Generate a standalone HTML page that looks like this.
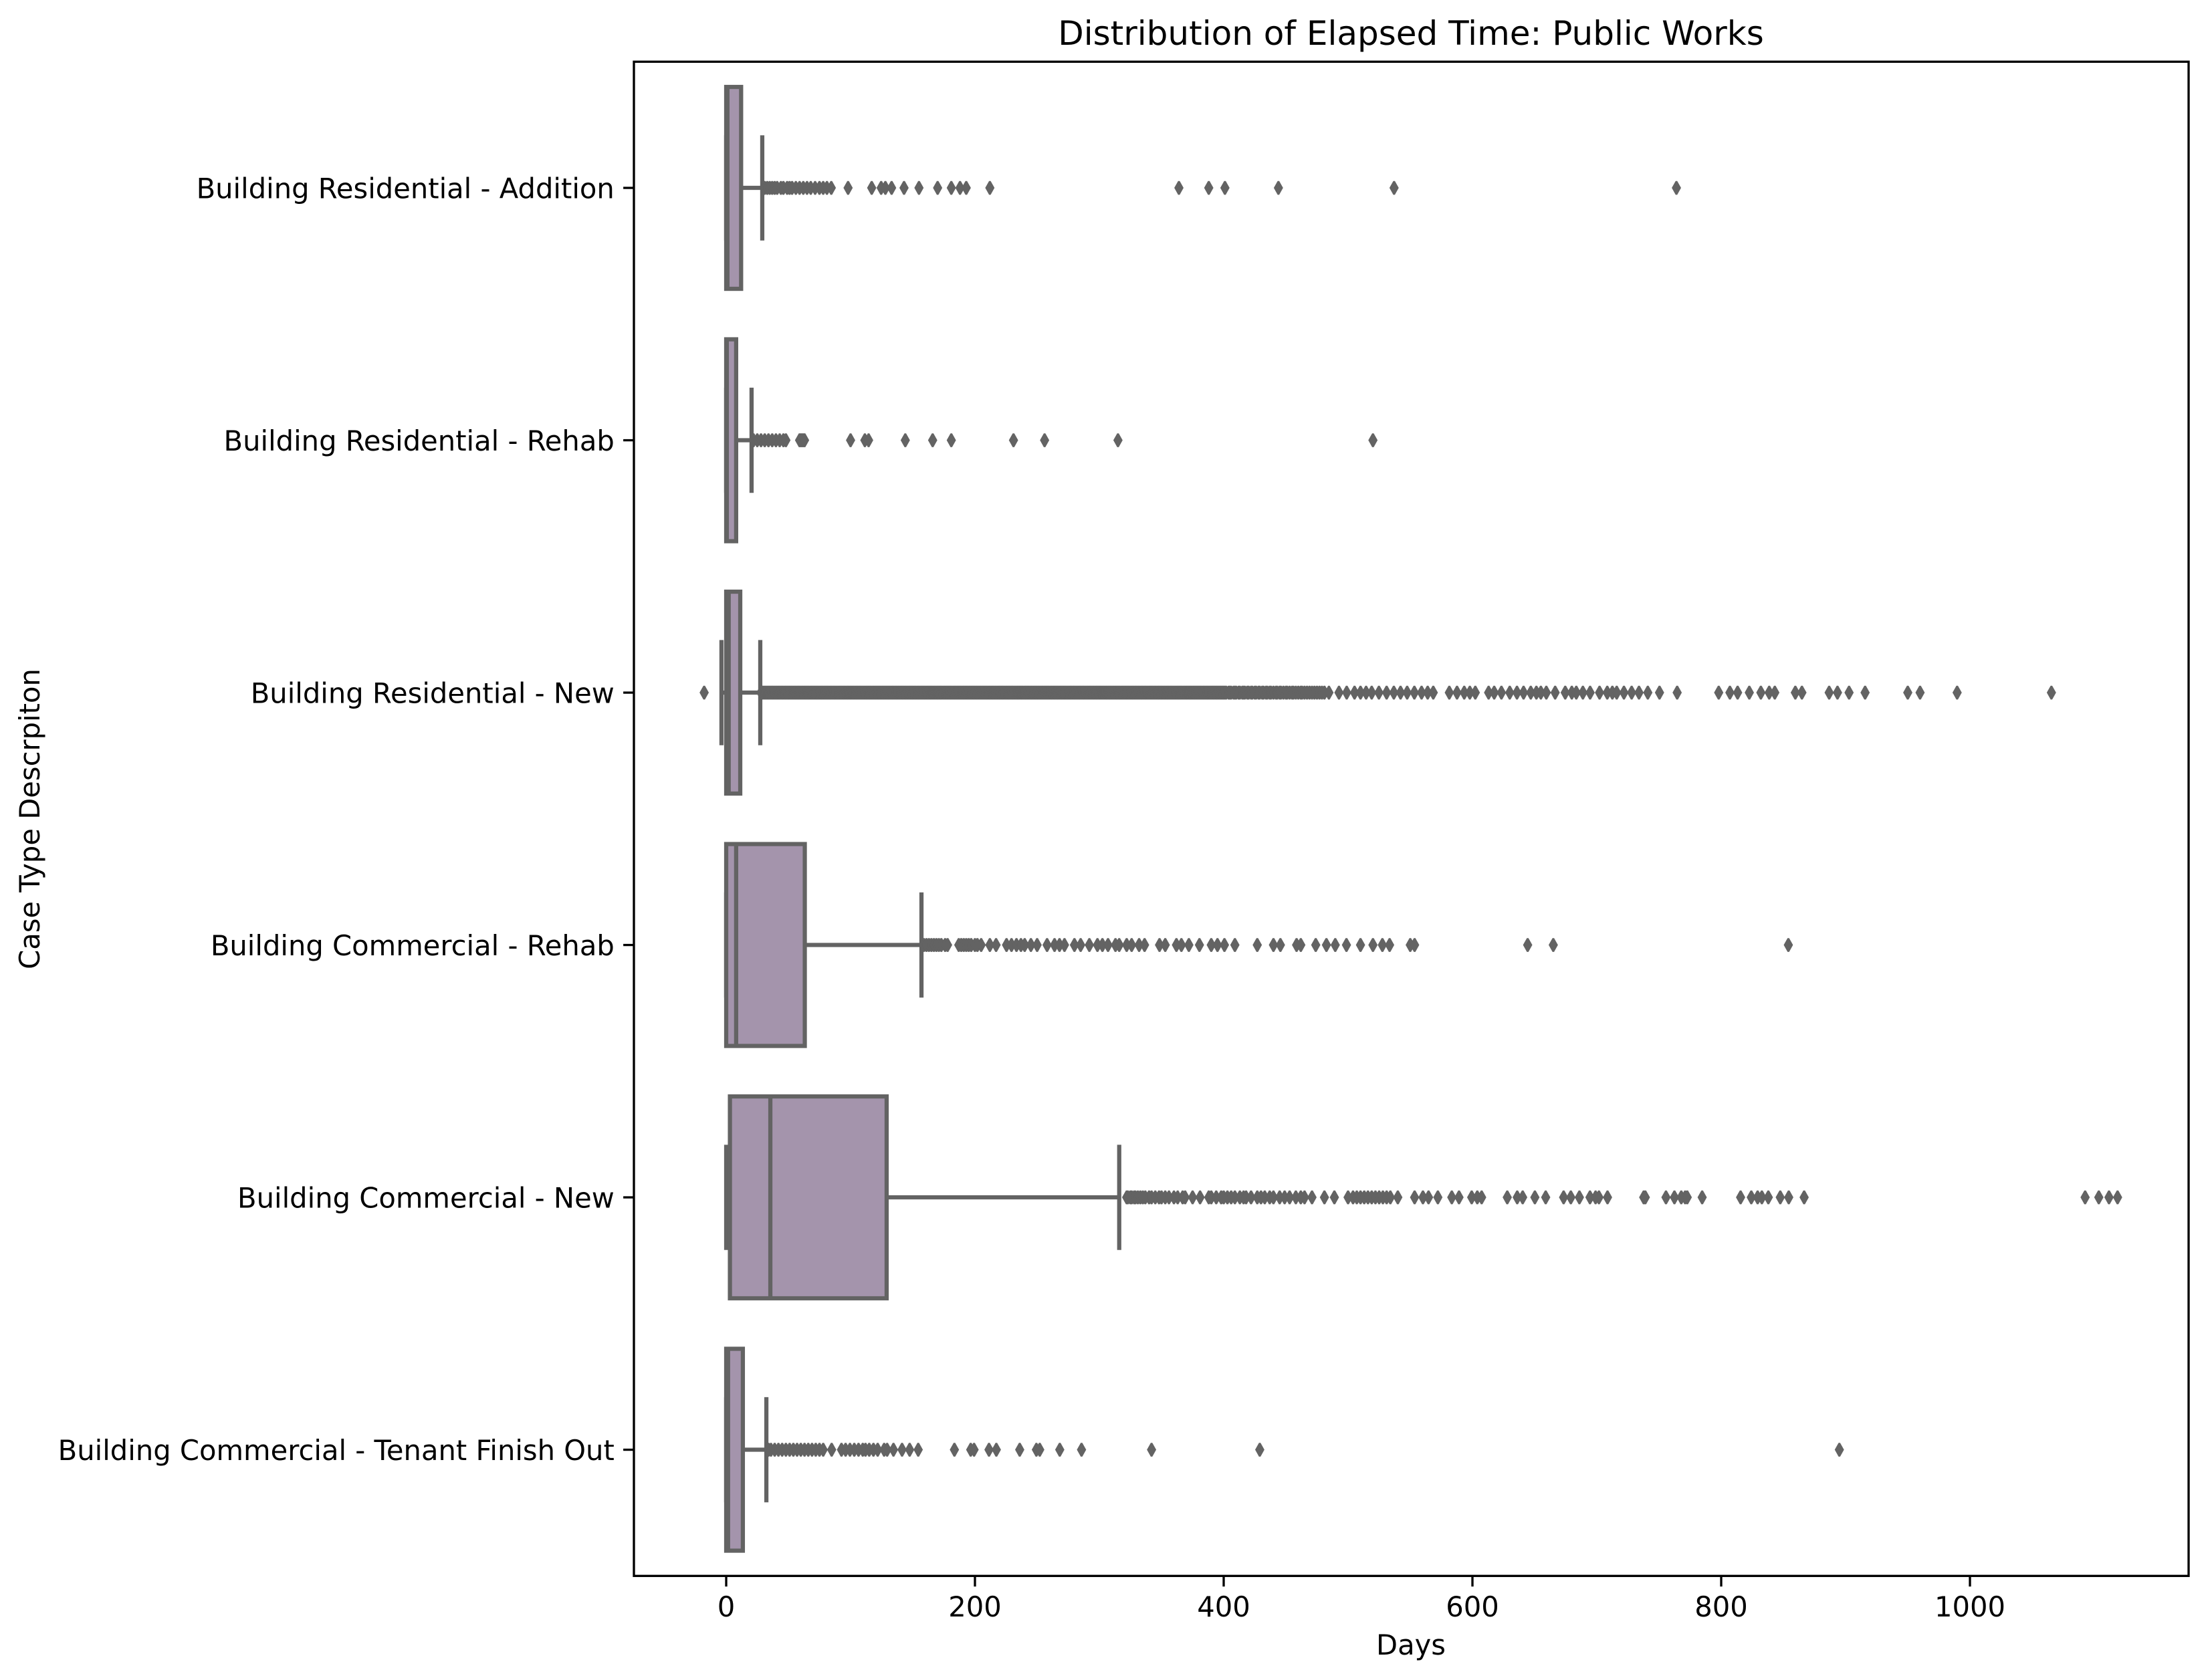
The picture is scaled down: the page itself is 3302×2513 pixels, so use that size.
<!DOCTYPE html>
<html lang="en">
<head>
<meta charset="utf-8">
<title>Distribution of Elapsed Time: Public Works</title>
<style>
html,body{margin:0;padding:0;background:#fff;}
svg{display:block;}
text{font-family:"DejaVu Sans","Liberation Sans",sans-serif;fill:#000;}
</style>
</head>
<body>
<svg id="chart" xmlns="http://www.w3.org/2000/svg" width="3302" height="2513" viewBox="0 0 3302 2513">
  <rect x="0" y="0" width="3302" height="2513" fill="#ffffff"/>
  <text x="2110" y="67" font-size="50" text-anchor="middle">Distribution of Elapsed Time: Public Works</text>
  <text x="2110" y="2475" font-size="41.67" text-anchor="middle">Days</text>
  <text x="0" y="0" font-size="41.67" text-anchor="middle" transform="translate(59,1225) rotate(-90)">Case Type Descrpiton</text>
  <g id="marks"></g>
  <g id="axes"></g>
</svg>
<script>
const categories = ["Building Residential - Addition","Building Residential - Rehab","Building Residential - New","Building Commercial - Rehab","Building Commercial - New","Building Commercial - Tenant Finish Out"];
const xTicks = [0,200,400,600,800,1000];

const q1 = [0,0,0,0,3,0];
const medians = [1,0.5,2,8,35.5,1.5];
const q3 = [12,8,11.3,63.2,129,13.4];
const whiskerLow = [0,0,-3.8,0,0,0];
const whiskerHigh = [29,20.4,27.4,157,316,32.3];

const fliersAddition = [31,33,35,37,39,41,44,46,49,51,53,56,59,62,65,68,71.5,75,78,81,84.5,98,117,124.6,128,133,143,155,170,181,188,193,212,364,388,401,444,537,764];
const fliersResRehab = [22,25,28,31,34,37,40,43,46,48,59,60,61,62,63,100,111.5,114.5,144,166,181,231,256,315,520];
const fliersResNew = [-17.7,28,29,30,31,32,33,34,35,36,37,38,39,40,41,42,43,44,45,46,47,48,49,50,51,52,53,54,55,56,57,58,59,60,61,62,63,64,65,66,67,68,69,70,71,72,73,74,75,76,77,78,79,80,81,82,83,84,85,86,87,88,89,90,91,92,93,94,95,96,97,98,99,100,101,102,103,104,105,106,107,108,109,110,111,112,113,114,115,116,117,118,119,120,121,122,123,124,125,126,127,128,129,130,131,132,133,134,135,136,137,138,139,140,141,142,143,144,145,146,147,148,149,150,151,152,153,154,155,156,157,158,159,160,161,162,163,164,165,166,167,168,169,170,171,172,173,174,175,176,177,178,179,180,181,182,183,184,185,186,187,188,189,190,191,192,193,194,195,196,197,198,199,200,201,202,203,204,205,206,207,208,209,210,211,212,213,214,215,216,217,218,219,220,221,222,223,224,225,226,227,228,229,230,231,232,233,234,235,236,237,238,239,240,241,242,243,244,245,246,247,248,249,250,251,252,253,254,255,256,257,258,259,260,261,262,263,264,265,266,267,268,269,270,271,272,273,274,275,276,277,278,279,280,281,282,283,284,285,286,287,288,289,290,291,292,293,294,295,296,297,298,299,300,301,302,303,304,305,306,307,308,309,310,311,312,313,314,315,316,317,318,319,320,321,322,323,324,325,326,327,328,329,330,331,332,333,334,335,336,337,338,339,340,341,342,343,344,345,346,347,348,349,350,351,352,353,354,355,356,357,358,359,360,361,362,363,364,365,366,367,368,369,370,371,372,373,374,375,376,377,378,379,380,381,382,383,384,385,386,387,388,389,390,391,392,393,394,395,396,397,398,399,400,401,402,404,405,406,408,409,410,412,413,415,416,417,419,420,422,423,425,426,428,429,431,432,434,435,437,438,440,442,443,445,446,448,450,451,453,455,456,458,460,462,463,465,467,469,471,473,475,477,479,481,484.6,492.7,498.9,505.2,510,514.5,519,524.8,531,536.8,542.2,547.5,553.3,559.1,564,568.5,581.4,587.6,593.4,597.9,602.3,613,617.5,623.3,630,635.8,641.1,646.9,651.4,655,659.4,666.5,674.6,679.9,683.5,688.8,694.6,702.2,708.4,712.5,716,721.8,728,733.9,741,750.4,764.6,798,807,813.2,822.6,831.9,838.6,843.1,859.6,864.9,886.8,893.5,902.8,915.7,950,959.9,989.7,1065.5];
const fliersComRehab = [159,161,163,165,167,169,171,173,176,178,187,189,191,193,195,197,200,202,205,212,217,225.4,229.4,233.4,237,240,245,250,258,264,268,272,280,285,292,298.5,302.5,307,313,316,322,326,332,336.4,348.4,353,362,366,372,380.5,390,395,400.6,409,427,440,445.6,458.6,462,474,482.6,489.7,498.7,510,520,527.6,533.4,550,553.5,644.4,665,854];
const fliersComNew = [322,323,325,326,328,329,331,333,335,337,340,342,345,348,350,353,356,360,363,367,369,375,381,388,390,394,398,400,403,406,409,413,416,418,422,427,430,433,437,440,445,449,453,458,462,465,471,481,489,500,504,507,510,513,516,519,522,525,528,531,534,540,553.5,560.2,564.7,572.2,583.4,589.2,599.4,603.9,607.4,628,636,640.4,650.2,658.9,673.3,679.1,686,694.5,699,701.7,708.6,737.7,739,755.6,762.4,767.9,771,772.7,784.7,815.6,824.2,829.3,832.7,837.9,847.5,854.3,866.7,1092.6,1103.6,1111.8,1118.7];
const fliersTenant = [34,36,39,42,45,48,51,54,57,60,63,66,69,72,75,78,84.8,92.7,96,99.5,103,106.4,109.8,112,115,118.4,121.8,127,129.4,134.5,141.4,147.5,154.4,183.5,196.6,199.3,211.3,217.2,236,249.4,252.1,268.2,285.7,342,429,895];
const allFliers = [fliersAddition,fliersResRehab,fliersResNew,fliersComRehab,fliersComNew,fliersTenant];

const NS = "http://www.w3.org/2000/svg";
const plot = {left:948, right:3273, top:92.3, bottom:2357.3};
const xOrigin = 1086, xPerDay = 1.86;
const GREY = "#636363", FILL = "#a494ac", LW = 6.25;

function xScale(v){ return xOrigin + v * xPerDay; }
function bandHeight(){ return (plot.bottom - plot.top) / categories.length; }
function yCenter(i){ return plot.top + bandHeight() * (i + 0.5); }

function make(parent, tag, attrs){
  const el = document.createElementNS(NS, tag);
  for (const k in attrs) el.setAttribute(k, attrs[k]);
  parent.appendChild(el);
  return el;
}

const marks = document.getElementById("marks");
const axes = document.getElementById("axes");

categories.forEach(function(cat, i){
  const cy = yCenter(i);
  const bh = bandHeight() * 0.8;
  const capH = bandHeight() * 0.4167;
  const slug = cat.toLowerCase().replace(/[^a-z]+/g, "-");

  const g = make(marks, "g", {});
  
  

  const wl = make(g, "line", {x1:xScale(whiskerLow[i]), x2:xScale(q1[i]), y1:cy, y2:cy, stroke:GREY, "stroke-width":LW});
  
  

  const wh = make(g, "line", {x1:xScale(q3[i]), x2:xScale(whiskerHigh[i]), y1:cy, y2:cy, stroke:GREY, "stroke-width":LW});
  
  

  const cl = make(g, "line", {x1:xScale(whiskerLow[i]), x2:xScale(whiskerLow[i]), y1:cy-capH/2, y2:cy+capH/2, stroke:GREY, "stroke-width":LW});
  
  

  const ch = make(g, "line", {x1:xScale(whiskerHigh[i]), x2:xScale(whiskerHigh[i]), y1:cy-capH/2, y2:cy+capH/2, stroke:GREY, "stroke-width":LW});
  
  

  const box = make(g, "rect", {x:xScale(q1[i]), y:cy-bh/2, width:xScale(q3[i])-xScale(q1[i]), height:bh, fill:FILL, stroke:GREY, "stroke-width":LW});
  
  

  const med = make(g, "line", {x1:xScale(medians[i]), x2:xScale(medians[i]), y1:cy-bh/2, y2:cy+bh/2, stroke:GREY, "stroke-width":LW});
  
  

  allFliers[i].forEach(function(v){
    const x = xScale(v);
    const pts = [[x-1,cy-10],[x+1,cy-10],[x+6.6,cy],[x+1,cy+10],[x-1,cy+10],[x-6.6,cy]].map(function(p){return p[0].toFixed(2)+","+p[1].toFixed(2);}).join(" ");
    const d = make(g, "polygon", {points:pts, fill:GREY, stroke:GREY, "stroke-width":0.6});
    
    
  });

  const tick = make(axes, "line", {x1:plot.left-15.9, x2:plot.left, y1:cy, y2:cy, stroke:"#000", "stroke-width":3.33});
  
  

  const label = make(axes, "text", {x:918.8, y:cy+15.5, "font-size":41.67, "text-anchor":"end"});
  label.textContent = cat;
  
  
});

xTicks.forEach(function(t){
  const x = xScale(t);
  const tick = make(axes, "line", {x1:x, x2:x, y1:plot.bottom, y2:plot.bottom+15.9, stroke:"#000", "stroke-width":3.33});
  
  

  const label = make(axes, "text", {x:x, y:2418, "font-size":41.67, "text-anchor":"middle"});
  label.textContent = String(t);
  
  
});

const frame = make(axes, "rect", {x:plot.left, y:plot.top, width:plot.right-plot.left, height:plot.bottom-plot.top, fill:"none", stroke:"#000", "stroke-width":3.33});


</script>
</body>
</html>
